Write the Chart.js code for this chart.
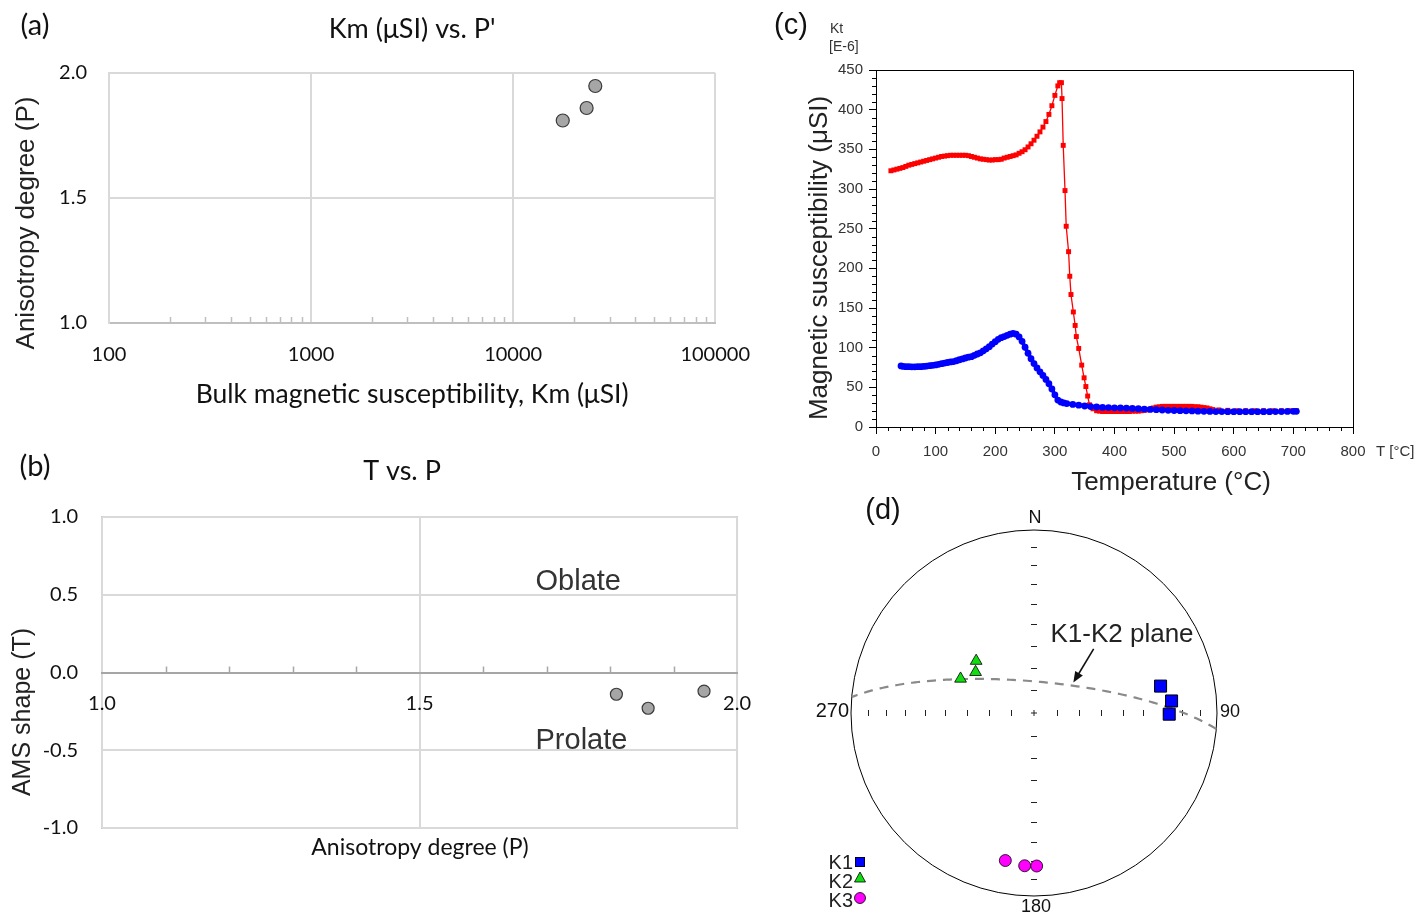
<!DOCTYPE html>
<html><head><meta charset="utf-8">
<script src="https://cdn.jsdelivr.net/npm/chart.js@4.4.1/dist/chart.umd.min.js"></script>
<style>
html,body{margin:0;padding:0;background:#fff;}
body{width:1422px;height:917px;overflow:hidden;position:relative;}
canvas{position:absolute;}
</style></head><body>
<canvas id="ca" width="770" height="420" style="left:0;top:0"></canvas>
<canvas id="cb" width="770" height="477" style="left:0;top:440px"></canvas>
<canvas id="cc" width="652" height="500" style="left:770px;top:0"></canvas>
<canvas id="cd" width="642" height="427" style="left:780px;top:490px"></canvas>
<script>
// ================= DATA =================
// (a) Km vs P'  and (b) T vs P  — three specimens
const kmTicks = [100, 1000, 10000, 100000];
const kmMinorTicks = [200,300,400,500,600,700,800,900,2000,3000,4000,5000,6000,7000,8000,9000,20000,30000,40000,50000,60000,70000,80000,90000];
const pTicks = [1.0, 1.5, 2.0];
const pMinorTicks = [1.1,1.2,1.3,1.4,1.6,1.7,1.8,1.9];
const shapeTicks = [-1.0, -0.5, 0.0, 0.5, 1.0];
const sampleKm = [17600, 23100, 25500];
const sampleP = [1.81, 1.86, 1.948];
const sampleT = [-0.14, -0.23, -0.12];

// (c) K-T curve
const tempTicks = [0,100,200,300,400,500,600,700,800];
const tempMinorTicks = [20,40,60,80,120,140,160,180,220,240,260,280,320,340,360,380,420,440,460,480,520,540,560,580,620,640,660,680,720,740,760,780];
const ktTicks = [0,50,100,150,200,250,300,350,400,450];
const heatT = [25,30,35,40,45,50,55,60,65,70,75,80,85,90,95,100,105,110,115,120,125,130,135,140,145,150,155,160,165,170,175,180,185,190,195,200,205,210,215,220,225,230,235,240,245,250,255,260,265,270,275,280,285,290,295,300,305,308,311,312,314,317,319,323,325,327,331,334,336,340,345,349,352,355,358,364,370,375,380,385,390,395,400,405,410,415,420,425,430,435,440,445,450,455,460,465,470,475,480,485,490,495,500,505,510,515,520,525,530,535,540,545,550,555,560,565,575,590,605,620,635,650,665,680,695,705];
const heatK = [323,324,325,326,327,328.5,330,331,332,333,334,335,336,337,338,339,340,341,341.5,342,342.5,342.5,342.5,342.5,342.5,342.5,342,341,340,339,338,337.5,337,336.5,336.5,337,337,337.5,339,340,341,342,343,345,347,349.5,353,357,361.5,366.5,372,378,385,394,405,418,430,434,434,414,355,298,253,221,190,167,145,128,114,99,78,62,51,39,28,23,20.5,20,19.5,19.5,19.5,19.5,19.5,19.5,19.5,19.5,19.5,19.5,20,20,20,20.5,21,21.5,22.5,24,25,25.5,26,26,26,26,26,26,26,26,26,26,26,25.5,25.5,25,24.5,24,23,22,21.5,21,20.5,20.5,20.5,20.5,20.5,20.5,20.5,20.5,20.5];
const coolT = [42,45,50,55,60,65,70,75,80,85,90,95,100,105,110,115,120,125,130,135,140,145,150,155,160,165,170,175,180,185,190,195,200,205,210,215,220,225,230,235,240,245,250,255,260,265,270,275,280,285,290,295,300,305,310,315,320,330,340,350,360,370,380,390,400,410,420,430,440,450,460,470,480,490,500,510,520,530,540,550,560,570,580,590,600,610,620,630,640,650,660,670,680,690,700,705];
const coolK = [77,76.5,76,76,75.8,75.8,76,76,76.3,76.8,77.3,77.8,78.3,79,79.8,80.6,81.3,82,82.5,83.5,84.8,85.8,87,88,88.7,90.3,92,93.5,96,98.5,101.3,104.5,107.6,110.5,112.6,114,115.5,117,118,117,113.5,108,100.5,93,86,80,74.5,69.5,65,60,54.5,48,40.5,34,31.5,30.3,29.5,28.5,27.5,26.5,25.8,25.2,24.7,24.5,24.2,24,23.8,23.4,23,22.6,22.2,21.8,21.4,21,20.8,20.6,20.4,20.2,20,19.8,19.6,19.5,19.4,19.3,19.3,19.3,19.3,19.3,19.3,19.3,19.3,19.4,19.5,19.6,19.7,19.7];

// (d) AMS principal axes (trend, plunge in degrees), lower hemisphere
const k1Trend = [78, 85, 90.5];   const k1Plunge = [30, 25.5, 27];
const k2Trend = [312, 305, 295];  const k2Plunge = [55, 58, 53.5];
const k3Trend = [191, 183.5, 179]; const k3Plunge = [19, 17.5, 17.5];
const planeDipDir = 5, planeDip = 76;
const netTickPlunges = [10,20,30,40,50,60,70,80];

// ================= HELPERS =================
const CAL = "Lato, 'Open Sans', sans-serif";
const ARIAL = "'Liberation Sans', Arial, sans-serif";
Chart.defaults.font.family = ARIAL;

function projectLine(trend, plunge) {
  const t = trend*Math.PI/180, p = plunge*Math.PI/180;
  const e = Math.cos(p)*Math.sin(t), n = Math.cos(p)*Math.cos(t), z = Math.sin(p);
  const f = 1/Math.sqrt(1+z);
  return {x: e*f, y: n*f};
}
function planeCurve(dipDir, dip) {
  const dd = dipDir*Math.PI/180, dp = dip*Math.PI/180;
  const s = [Math.sin(dd+Math.PI/2), Math.cos(dd+Math.PI/2), 0];
  const d = [Math.sin(dd)*Math.cos(dp), Math.cos(dd)*Math.cos(dp), Math.sin(dp)];
  const pts = [];
  for (let i=0;i<=120;i++){
    const a = i/120*Math.PI, c = Math.cos(a), sn = Math.sin(a);
    const e = c*s[0]+sn*d[0], n = c*s[1]+sn*d[1], z = c*s[2]+sn*d[2];
    const f = 1/Math.sqrt(1+z);
    pts.push({x:e*f, y:n*f});
  }
  return pts;
}

const textPlugin = {
  id: 'texts',
  afterDraw(chart, args, opts) {
    const ctx = chart.ctx;
    (opts.items||[]).forEach(t => {
      let x = t.x, y = t.y;
      if (t.dx !== undefined) x = chart.scales.x.getPixelForValue(t.dx);
      if (t.dy !== undefined) y = chart.scales.y.getPixelForValue(t.dy);
      ctx.save();
      ctx.font = t.font; ctx.fillStyle = t.color || '#111';
      ctx.textAlign = t.align || 'center'; ctx.textBaseline = 'middle';
      ctx.translate(x, y);
      if (t.rot) ctx.rotate(t.rot*Math.PI/180);
      ctx.fillText(t.text, 0, 0);
      ctx.restore();
    });
  }
};

// ================= (a) =================
new Chart(document.getElementById('ca'), {
  type: 'scatter',
  data: { datasets: [{
    data: sampleKm.map((k,i)=>({x:k, y:sampleP[i]})),
    pointRadius: 6.5, pointBackgroundColor:'#a6a6a6', pointBorderColor:'#3a3a3a', pointBorderWidth:1.2
  }]},
  options: {
    responsive:false, animation:false,
    layout:{padding:{left:0,right:52,top:0,bottom:0}},
    plugins:{
      legend:{display:false}, tooltip:{enabled:false},
      title:{display:true, text:"Km (μSI) vs. P'", fullSize:false, color:'#111',
        font:{family:CAL,size:27,weight:'normal'}, padding:{top:13,bottom:27.6}},
      texts:{items:[
        {text:'(a)', x:35, y:26, font:`29px ${CAL}`},
        {text:'Anisotropy degree (P)', x:27, y:223, rot:-90, font:`26px ${ARIAL}`, color:'#222'}
      ]}
    },
    scales:{
      x:{type:'logarithmic', min:100, max:100000,
        afterBuildTicks: s => { s.ticks = kmTicks.map(v=>({value:v})); },
        afterFit: s => { s.height = 97; },
        ticks:{font:{family:CAL,size:20}, color:'#111', padding:20, autoSkip:false, maxRotation:0, callback: v => String(v)},
        grid:{color:'#d9d9d9', lineWidth:2, drawTicks:false},
        border:{color:'#bfbfbf', width:2},
        title:{display:true, text:'Bulk magnetic susceptibility, Km (μSI)', color:'#111',
          font:{family:CAL,size:26.5}, padding:{top:0,bottom:10}}
      },
      y:{min:1, max:2,
        afterBuildTicks: s => { s.ticks = pTicks.map(v=>({value:v})); },
        afterFit: s => { s.width = 109; },
        ticks:{font:{family:CAL,size:20}, color:'#111', padding:22, callback: v => Number(v).toFixed(1)},
        grid:{color:'#d9d9d9', lineWidth:2, drawTicks:false},
        border:{color:'#d9d9d9', width:2}
      }
    }
  },
  plugins:[textPlugin, {
    id:'minorA',
    beforeDatasetsDraw(chart){
      const ctx = chart.ctx, xs = chart.scales.x, b = chart.chartArea.bottom;
      ctx.save(); ctx.strokeStyle='#bfbfbf'; ctx.lineWidth=1.5;
      kmMinorTicks.forEach(v => { const px = Math.round(xs.getPixelForValue(v))+0.5;
        ctx.beginPath(); ctx.moveTo(px, b); ctx.lineTo(px, b-6); ctx.stroke(); });
      ctx.restore();
    }
  }]
});

// ================= (b) =================
new Chart(document.getElementById('cb'), {
  type: 'scatter',
  data: { datasets: [{
    data: sampleP.map((p,i)=>({x:p, y:sampleT[i]})),
    pointRadius: 6, pointBackgroundColor:'#a6a6a6', pointBorderColor:'#3a3a3a', pointBorderWidth:1.2
  }]},
  options: {
    responsive:false, animation:false,
    layout:{padding:{left:0,right:30,top:77,bottom:89}},
    plugins:{
      legend:{display:false}, tooltip:{enabled:false},
      texts:{items:[
        {text:'(b)', x:35, y:27, font:`29px ${CAL}`},
        {text:'T vs. P', x:402, y:31, font:`27px ${CAL}`},
        {text:'AMS shape (T)', x:23, y:272, rot:-90, font:`25px ${ARIAL}`, color:'#222'},
        {text:'Anisotropy degree (P)', x:420, y:408, font:`23px ${CAL}`},
        {text:'Oblate', dx:1.75, dy:0.585, font:`29px ${ARIAL}`, color:'#333'},
        {text:'Prolate', dx:1.755, dy:-0.44, font:`29px ${ARIAL}`, color:'#333'}
      ]}
    },
    scales:{
      x:{type:'linear', min:1, max:2, position:{y:0},
        afterBuildTicks: s => { s.ticks = pTicks.map(v=>({value:v})); },
        ticks:{font:{family:CAL,size:20}, color:'#111', padding:19, z:2, callback: v => Number(v).toFixed(1)},
        grid:{color:'#d9d9d9', lineWidth:2, drawTicks:false},
        border:{color:'#a6a6a6', width:2}
      },
      y:{min:-1, max:1,
        afterBuildTicks: s => { s.ticks = shapeTicks.map(v=>({value:v})); },
        afterFit: s => { s.width = 102; },
        ticks:{font:{family:CAL,size:20}, color:'#111', padding:24, callback: v => Number(v).toFixed(1)},
        grid:{color: c => (c.tick && c.tick.value === 0) ? 'rgba(0,0,0,0)' : '#d9d9d9', lineWidth:2, drawTicks:false},
        border:{display:false}
      }
    }
  },
  plugins:[textPlugin, {
    id:'frameB',
    beforeDraw(chart){
      const ctx = chart.ctx, a = chart.chartArea;
      ctx.save();
      ctx.strokeStyle='#c8c8c8'; ctx.lineWidth=2;
      ctx.strokeRect(a.left, a.top, a.right-a.left, a.bottom-a.top);
      ctx.restore();
    },
    beforeDatasetsDraw(chart){
      const ctx = chart.ctx, xs = chart.scales.x, y0 = chart.scales.y.getPixelForValue(0);
      ctx.save();
      ctx.strokeStyle='#a6a6a6'; ctx.lineWidth=1.5;
      pMinorTicks.forEach(v => { const px = Math.round(xs.getPixelForValue(v))+0.5;
        ctx.beginPath(); ctx.moveTo(px, y0); ctx.lineTo(px, y0-6); ctx.stroke(); });
      ctx.restore();
    }
  }]
});

// ================= (c) =================
new Chart(document.getElementById('cc'), {
  type: 'scatter',
  data: { datasets: [
    { data: coolT.map((t,i)=>({x:t, y:coolK[i]})), showLine:true,
      borderColor:'#0000ff', backgroundColor:'#0000ff', borderWidth:3.8,
      pointRadius:3.4, pointStyle:'circle', pointBorderWidth:0, pointBackgroundColor:'#0000ff' },
    { data: heatT.map((t,i)=>({x:t, y:heatK[i]})), showLine:true,
      borderColor:'#ff0000', backgroundColor:'#ff0000', borderWidth:1.3,
      pointRadius:3.5, pointStyle:'rect', pointBorderWidth:0, pointBackgroundColor:'#ff0000' }
  ]},
  options: {
    responsive:false, animation:false,
    layout:{padding:{left:0,right:69,top:70,bottom:0}},
    plugins:{
      legend:{display:false}, tooltip:{enabled:false},
      texts:{items:[
        {text:'(c)', x:21, y:26, font:`29px ${ARIAL}`},
        {text:'Kt', x:60, y:29, font:`14px ${ARIAL}`, color:'#333', align:'left'},
        {text:'[E-6]', x:59, y:47, font:`14px ${ARIAL}`, color:'#333', align:'left'},
        {text:'T [°C]', x:606, y:452, font:`15px ${ARIAL}`, color:'#333', align:'left'},
        {text:'Magnetic susceptibility (μSI)', x:50, y:258, rot:-90, font:`26px ${ARIAL}`, color:'#222'},
        {text:'Temperature (°C)', x:401, y:483, font:`26px ${ARIAL}`, color:'#222'}
      ]}
    },
    scales:{
      x:{type:'linear', min:0, max:800,
        afterBuildTicks: s => { s.ticks = tempTicks.map(v=>({value:v})); },
        afterFit: s => { s.height = 73; },
        ticks:{font:{family:ARIAL,size:15}, color:'#333', padding:9, maxRotation:0},
        grid:{drawOnChartArea:false, drawTicks:true, tickLength:7, tickColor:'#000', tickWidth:1},
        border:{color:'#000', width:1}
      },
      y:{min:0, max:450,
        afterBuildTicks: s => { s.ticks = ktTicks.map(v=>({value:v})); },
        afterFit: s => { s.width = 106; },
        ticks:{font:{family:ARIAL,size:15}, color:'#333', padding:6},
        grid:{drawOnChartArea:false, drawTicks:true, tickLength:7, tickColor:'#000', tickWidth:1},
        border:{color:'#000', width:1}
      }
    }
  },
  plugins:[textPlugin, {
    id:'frameC',
    beforeDatasetsDraw(chart){
      const ctx = chart.ctx, a = chart.chartArea, xs = chart.scales.x, ys = chart.scales.y;
      ctx.save(); ctx.strokeStyle='#000'; ctx.lineWidth=1;
      ctx.beginPath(); ctx.moveTo(a.left, a.top+0.5); ctx.lineTo(a.right+0.5, a.top+0.5); ctx.lineTo(a.right+0.5, a.bottom); ctx.stroke();
      tempMinorTicks.forEach(v => { const px = Math.round(xs.getPixelForValue(v))+0.5;
        ctx.beginPath(); ctx.moveTo(px, a.bottom); ctx.lineTo(px, a.bottom+4); ctx.stroke(); });
      for (let i=0;i<ktTicks.length-1;i++){
        for (let k=1;k<5;k++){
          const v = ktTicks[i] + (ktTicks[i+1]-ktTicks[i])*k/5;
          const py = Math.round(ys.getPixelForValue(v))+0.5;
          ctx.beginPath(); ctx.moveTo(a.left, py); ctx.lineTo(a.left-4, py); ctx.stroke();
        }
      }
      ctx.restore();
    }
  }]
});

// ================= (d) =================
const k1Pts = k1Trend.map((t,i)=>projectLine(t, k1Plunge[i]));
const k2Pts = k2Trend.map((t,i)=>projectLine(t, k2Plunge[i]));
const k3Pts = k3Trend.map((t,i)=>projectLine(t, k3Plunge[i]));
new Chart(document.getElementById('cd'), {
  type: 'scatter',
  data: { datasets: [
    { label:'K1', data:k1Pts, pointStyle:'rect', pointRadius:8.5, pointBackgroundColor:'#0000ff', pointBorderColor:'#000', pointBorderWidth:1, clip:false },
    { label:'K2', data:k2Pts, pointStyle:'triangle', pointRadius:6.8, pointBackgroundColor:'#11dd11', pointBorderColor:'#000', pointBorderWidth:0.8, clip:false },
    { label:'K3', data:k3Pts, pointStyle:'circle', pointRadius:6, pointBackgroundColor:'#ff00ff', pointBorderColor:'#000', pointBorderWidth:0.8, clip:false },
    { label:'K1-K2 plane', data:planeCurve(planeDipDir, planeDip), showLine:true, pointRadius:0,
      borderColor:'#8a8a8a', borderWidth:2.2, borderDash:[9,7], clip:false }
  ]},
  options: {
    responsive:false, animation:false,
    layout:{padding:{left:71,right:205,top:40,bottom:21}},
    plugins:{
      legend:{display:false}, tooltip:{enabled:false},
      texts:{items:[
        {text:'(d)', x:103, y:21, font:`29px ${ARIAL}`},
        {text:'N', x:255, y:28, font:`18px ${ARIAL}`},
        {text:'270', x:69, y:221, font:`20px ${ARIAL}`, align:'right'},
        {text:'90', x:440, y:222, font:`18px ${ARIAL}`, align:'left'},
        {text:'180', x:256, y:417, font:`18px ${ARIAL}`},
        {text:'K1-K2 plane', dx:0.481, dy:0.426, font:`26px ${ARIAL}`, color:'#222'},
        {text:'K1', x:73, y:373, font:`20px ${ARIAL}`, color:'#222', align:'right'},
        {text:'K2', x:73, y:392, font:`20px ${ARIAL}`, color:'#222', align:'right'},
        {text:'K3', x:73, y:411, font:`20px ${ARIAL}`, color:'#222', align:'right'}
      ]}
    },
    scales:{
      x:{type:'linear', min:-1, max:1, display:false},
      y:{type:'linear', min:-1, max:1, display:false}
    }
  },
  plugins:[textPlugin, {
    id:'net',
    beforeDatasetsDraw(chart){
      const ctx = chart.ctx, xs = chart.scales.x, ys = chart.scales.y;
      const cx = xs.getPixelForValue(0), cy = ys.getPixelForValue(0);
      const rx = xs.getPixelForValue(1)-cx, ry = cy-ys.getPixelForValue(1);
      ctx.save(); ctx.strokeStyle='#000'; ctx.lineWidth=1;
      ctx.beginPath(); ctx.ellipse(cx, cy, rx, ry, 0, 0, 2*Math.PI); ctx.stroke();
      ctx.strokeStyle='#222';
      netTickPlunges.forEach(p => {
        const r = Math.SQRT2*Math.sin((90-p)/2*Math.PI/180);
        [-1,1].forEach(sg => {
          const px = Math.round(xs.getPixelForValue(sg*r))+0.5;
          ctx.beginPath(); ctx.moveTo(px, cy-3); ctx.lineTo(px, cy+3); ctx.stroke();
          const py = Math.round(ys.getPixelForValue(sg*r))+0.5;
          ctx.beginPath(); ctx.moveTo(cx-3, py); ctx.lineTo(cx+3, py); ctx.stroke();
        });
      });
      ctx.beginPath(); ctx.moveTo(cx-3,cy); ctx.lineTo(cx+3,cy); ctx.moveTo(cx,cy-3); ctx.lineTo(cx,cy+3); ctx.stroke();
      ctx.restore();
    },
    afterDraw(chart){
      const ctx = chart.ctx, xs = chart.scales.x, ys = chart.scales.y;
      // arrow pointing at the plane trace
      const x1 = xs.getPixelForValue(0.326), y1 = ys.getPixelForValue(0.35);
      const x2 = xs.getPixelForValue(0.215), y2 = ys.getPixelForValue(0.166);
      const ang = Math.atan2(y2-y1, x2-x1);
      ctx.save(); ctx.strokeStyle='#111'; ctx.fillStyle='#111'; ctx.lineWidth=1.6;
      ctx.beginPath(); ctx.moveTo(x1,y1); ctx.lineTo(x2-Math.cos(ang)*6, y2-Math.sin(ang)*6); ctx.stroke();
      ctx.beginPath(); ctx.moveTo(x2,y2);
      ctx.lineTo(x2-Math.cos(ang)*11+Math.sin(ang)*4.5, y2-Math.sin(ang)*11-Math.cos(ang)*4.5);
      ctx.lineTo(x2-Math.cos(ang)*11-Math.sin(ang)*4.5, y2-Math.sin(ang)*11+Math.cos(ang)*4.5);
      ctx.closePath(); ctx.fill();
      // legend markers
      ctx.lineWidth=0.8; ctx.strokeStyle='#000';
      ctx.fillStyle='#0000ff'; ctx.fillRect(75,367,10,10); ctx.strokeRect(75.5,367.5,9,9);
      ctx.fillStyle='#11dd11'; ctx.beginPath(); ctx.moveTo(80,382); ctx.lineTo(85.5,392); ctx.lineTo(74.5,392); ctx.closePath(); ctx.fill(); ctx.stroke();
      ctx.fillStyle='#ff00ff'; ctx.beginPath(); ctx.arc(80,408,5.5,0,2*Math.PI); ctx.fill(); ctx.stroke();
      ctx.restore();
    }
  }]
});
</script>
</body></html>
